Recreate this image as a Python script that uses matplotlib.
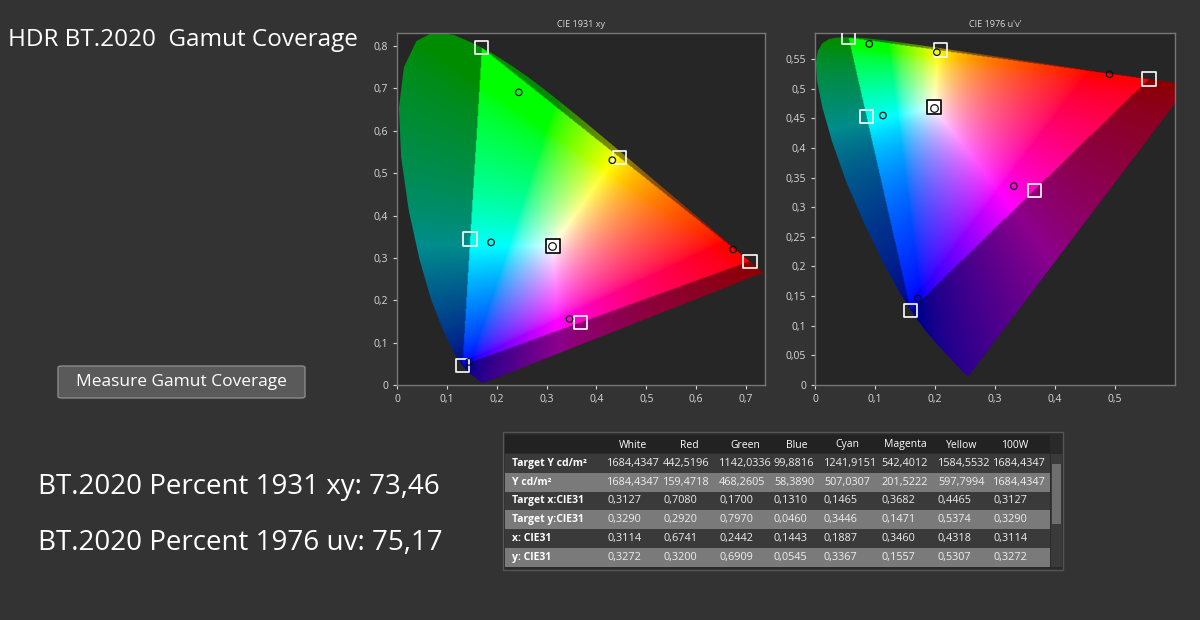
import numpy as np
import matplotlib
matplotlib.use("Agg")
import matplotlib.pyplot as plt
from matplotlib.patches import Polygon, Rectangle, FancyBboxPatch
from matplotlib.path import Path
from matplotlib.ticker import FuncFormatter

plt.rcParams['font.family'] = ['Open Sans', 'DejaVu Sans']

# ---- data ----
columns = ["White", "Red", "Green", "Blue", "Cyan", "Magenta", "Yellow", "100W"]
row_labels = ["Target Y cd/m²", "Y cd/m²", "Target x:CIE31", "Target y:CIE31", "x: CIE31", "y: CIE31"]
target_Y = [1684.4347, 442.5196, 1142.0336, 99.8816, 1241.9151, 542.4012, 1584.5532, 1684.4347]
meas_Y = [1684.4347, 159.4718, 468.2605, 58.3890, 507.0307, 201.5222, 597.7994, 1684.4347]
target_x = [0.3127, 0.7080, 0.1700, 0.1310, 0.1465, 0.3682, 0.4465, 0.3127]
target_y = [0.3290, 0.2920, 0.7970, 0.0460, 0.3446, 0.1471, 0.5374, 0.3290]
meas_x = [0.3114, 0.6741, 0.2442, 0.1443, 0.1887, 0.3460, 0.4318, 0.3114]
meas_y = [0.3272, 0.3200, 0.6909, 0.0545, 0.3367, 0.1557, 0.5307, 0.3272]
pct_1931 = "73,46"
pct_1976 = "75,17"

locus_x = [0.1741, 0.1740, 0.1738, 0.1736, 0.1733, 0.1730, 0.1726, 0.1721, 0.1714, 0.1703,
           0.1689, 0.1669, 0.1644, 0.1611, 0.1566, 0.1510, 0.1440, 0.1355, 0.1241, 0.1096,
           0.0913, 0.0687, 0.0454, 0.0235, 0.0082, 0.0039, 0.0139, 0.0389, 0.0743, 0.1142,
           0.1547, 0.1929, 0.2296, 0.2658, 0.3016, 0.3373, 0.3731, 0.4087, 0.4441, 0.4788,
           0.5125, 0.5448, 0.5752, 0.6029, 0.6270, 0.6482, 0.6658, 0.6801, 0.6915, 0.7006,
           0.7079, 0.7140, 0.7190, 0.7260, 0.7300, 0.7347]
locus_y = [0.0050, 0.0050, 0.0049, 0.0049, 0.0048, 0.0048, 0.0048, 0.0048, 0.0051, 0.0058,
           0.0069, 0.0086, 0.0109, 0.0138, 0.0177, 0.0227, 0.0297, 0.0399, 0.0578, 0.0868,
           0.1327, 0.2007, 0.2950, 0.4127, 0.5384, 0.6548, 0.7502, 0.8120, 0.8338, 0.8262,
           0.8059, 0.7816, 0.7543, 0.7243, 0.6923, 0.6589, 0.6245, 0.5896, 0.5547, 0.5202,
           0.4866, 0.4544, 0.4242, 0.3965, 0.3725, 0.3514, 0.3340, 0.3197, 0.3083, 0.2993,
           0.2920, 0.2859, 0.2809, 0.2740, 0.2700, 0.2653]

BG = '#333333'
AXBG = '#262626'
TXT = '#d8d8d8'

def xy_to_uv(x, y):
    x = np.asarray(x, float); y = np.asarray(y, float)
    d = -2 * x + 12 * y + 3
    return 4 * x / d, 9 * y / d

def uv_to_xy(u, v):
    d = 6 * u - 16 * v + 12
    return 9 * u / d, 4 * v / d

def xy_to_rgb(x, y):
    y = np.maximum(y, 1e-6)
    X = x / y; Y = np.ones_like(x); Z = (1 - x - y) / y
    r = 3.2406 * X - 1.5372 * Y - 0.4986 * Z
    g = -0.9689 * X + 1.8758 * Y + 0.0415 * Z
    b = 0.0557 * X - 0.2040 * Y + 1.0570 * Z
    rgb = np.stack([r, g, b], -1)
    rgb = np.clip(rgb, 0, None)
    rgb = rgb / np.maximum(rgb.max(-1, keepdims=True), 1e-9)
    rgb = np.power(rgb, 1 / 1.6)
    return np.clip(rgb, 0, 1)

tri_idx = [1, 2, 3]  # red, green, blue targets

def draw_diagram(ax, uv):
    n = 500
    if uv:
        xr, yr = (0, 0.6), (0, 0.6)
    else:
        xr, yr = (0, 0.74), (0, 0.84)
    gx, gy = np.meshgrid(np.linspace(*xr, n), np.linspace(*yr, n))
    if uv:
        cx, cy = uv_to_xy(gx, gy)
        lx, ly = xy_to_uv(locus_x, locus_y)
        tx, ty = xy_to_uv([target_x[i] for i in tri_idx], [target_y[i] for i in tri_idx])
    else:
        cx, cy = gx, gy
        lx, ly = np.array(locus_x), np.array(locus_y)
        tx = np.array([target_x[i] for i in tri_idx]); ty = np.array([target_y[i] for i in tri_idx])
    rgb = xy_to_rgb(cx, cy)
    tri = Path(np.column_stack([tx, ty]))
    inside = tri.contains_points(np.column_stack([gx.ravel(), gy.ravel()])).reshape(gx.shape)
    rgb = np.where(inside[..., None], rgb, rgb * 0.55)
    im = ax.imshow(rgb, origin='lower', extent=(*xr, *yr), interpolation='bilinear', zorder=1, aspect='auto')
    poly = Polygon(np.column_stack([lx, ly]), closed=True, transform=ax.transData, facecolor='none', edgecolor='none')
    ax.add_patch(poly)
    im.set_clip_path(poly)
    if uv:
        mx, my = xy_to_uv(meas_x[:7], meas_y[:7])
        sx, sy = xy_to_uv(target_x[:7], target_y[:7])
    else:
        mx, my = np.array(meas_x[:7]), np.array(meas_y[:7])
        sx, sy = np.array(target_x[:7]), np.array(target_y[:7])
    ax.scatter(sx[1:], sy[1:], marker='s', s=90, facecolor='none', edgecolor='white', linewidth=1.2, zorder=3)
    ax.scatter(sx[:1], sy[:1], marker='s', s=90, facecolor='white', edgecolor='black', linewidth=1.2, zorder=3)
    ax.scatter(mx[1:], my[1:], marker='o', s=22, facecolor='none', edgecolor='#111111', linewidth=0.9, zorder=4)
    ax.scatter(mx[:1], my[:1], marker='o', s=30, facecolor='white', edgecolor='#111111', linewidth=0.9, zorder=4)

fig = plt.figure(figsize=(12, 6.2), dpi=100, facecolor=BG)

fmt = FuncFormatter(lambda v, p: ('%g' % round(v, 3)).replace('.', ','))

ax1 = fig.add_axes([397 / 1200, 1 - 385 / 620, 368 / 1200, 352 / 620])
ax1.set_facecolor(AXBG)
draw_diagram(ax1, False)
ax1.set_xlim(0, 0.738); ax1.set_ylim(0, 0.831)
ax1.set_xticks(np.arange(0, 0.71, 0.1)); ax1.set_yticks(np.arange(0, 0.81, 0.1))
ax1.set_title("CIE 1931 xy", color=TXT, fontsize=6.5, pad=4)

ax2 = fig.add_axes([815 / 1200, 1 - 385 / 620, 360 / 1200, 352 / 620])
ax2.set_facecolor(AXBG)
draw_diagram(ax2, True)
ax2.set_xlim(0, 0.6); ax2.set_ylim(0, 0.594)
ax2.set_xticks(np.arange(0, 0.51, 0.1)); ax2.set_yticks(np.arange(0, 0.551, 0.05))
ax2.set_title("CIE 1976 u'v'", color=TXT, fontsize=6.5, pad=4)

for ax in (ax1, ax2):
    ax.xaxis.set_major_formatter(fmt); ax.yaxis.set_major_formatter(fmt)
    ax.tick_params(colors=TXT, labelsize=7.5, length=3)
    for s in ax.spines.values():
        s.set_color('#777777'); s.set_linewidth(1)

fig.text(8 / 1200, 1 - 40 / 620, "HDR BT.2020  Gamut Coverage", color='white', fontsize=17.5, va='center')
fig.text(38 / 1200, 1 - 487 / 620, "BT.2020 Percent 1931 xy: " + pct_1931, color='white', fontsize=20, va='center')
fig.text(38 / 1200, 1 - 543 / 620, "BT.2020 Percent 1976 uv: " + pct_1976, color='white', fontsize=20, va='center')

# button
fig.patches.append(FancyBboxPatch((58 / 1200, 1 - 398 / 620), 247 / 1200, 32 / 620, boxstyle='round,pad=0,rounding_size=0.003',
                                  transform=fig.transFigure, facecolor='#5a5a5a', edgecolor='#8a8a8a', linewidth=1))
fig.text(181 / 1200, 1 - 382 / 620, "Measure Gamut Coverage", color='white', fontsize=12.5, ha='center', va='center')

# table
def R(x0, y0, w, h, c, ec='none'):
    fig.patches.append(Rectangle((x0 / 1200, 1 - (y0 + h) / 620), w / 1200, h / 620, transform=fig.transFigure,
                                 facecolor=c, edgecolor=ec, linewidth=1))

R(503, 432, 560, 138, '#2a2a2a', '#555555')
R(505, 435, 545, 18, '#222222')
rows = [target_Y, meas_Y, target_x, target_y, meas_x, meas_y]
row_colors = ['#3a3a3a', '#7a7a7a'] * 3
col_text_x = [607, 663, 719, 774, 824, 881, 938, 993]
col_head_x = [633, 689, 745, 797, 847, 905, 962, 1015]
for h, cxp in zip(columns, col_head_x):
    fig.text(cxp / 1200, 1 - 445 / 620, h, color='white', fontsize=7.5, ha='center', va='center')
for i, (lab, vals) in enumerate(zip(row_labels, rows)):
    y0 = 454 + i * 18.8
    R(505, y0, 545, 18.8, row_colors[i])
    yc = 1 - (y0 + 9.4) / 620
    fig.text(512 / 1200, yc, lab, color='white', fontsize=7.5, fontweight='bold', va='center')
    for v, cxp in zip(vals, col_text_x):
        fig.text(cxp / 1200, yc, ('%.4f' % v).replace('.', ','), color='#eeeeee', fontsize=7.8, va='center')
R(1051, 454, 11, 113, '#3a3a3a')
R(1052, 464, 9, 60, '#6e6e6e')

fig.savefig("out.png", dpi=100, facecolor=BG)
